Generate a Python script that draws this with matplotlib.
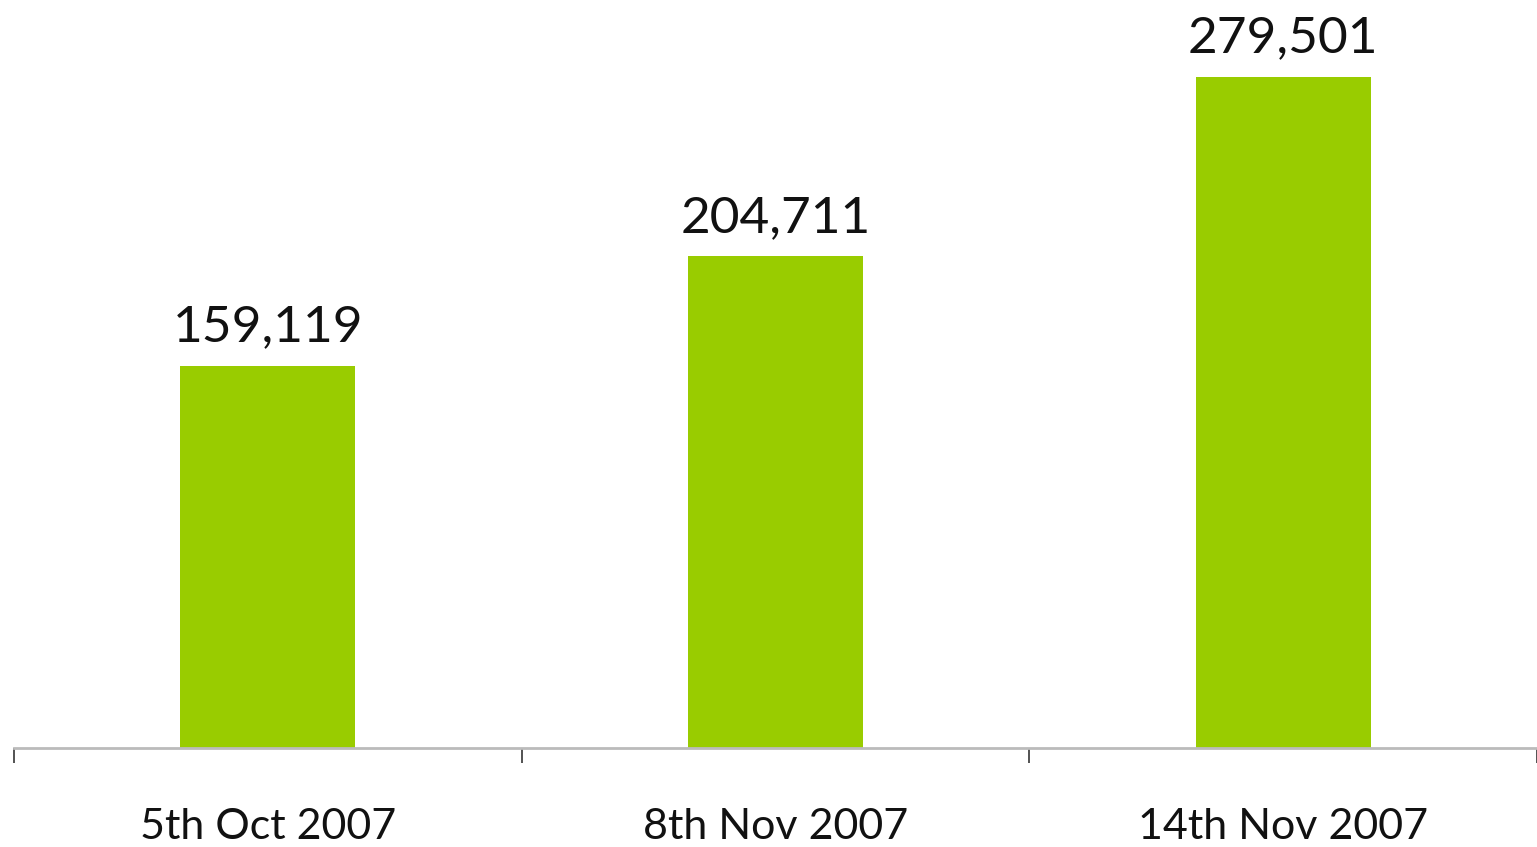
import matplotlib.pyplot as plt
import numpy as np

# data
dates = ["5th Oct 2007", "8th Nov 2007", "14th Nov 2007"]
counts = [159119, 204711, 279501]

plt.rcParams['font.family'] = ['Lato', 'DejaVu Sans']

fig = plt.figure(figsize=(15.37, 8.47), dpi=100)
ax = fig.add_axes([14 / 1537, 99 / 847, 1 - 14 / 1537, 748 / 847])

x = np.arange(len(dates))
bars = ax.bar(x, counts, width=0.345, color='#99CC00', zorder=2)

for b, v in zip(bars, counts):
    ax.annotate(f"{v:,}", (b.get_x() + b.get_width() / 2, v),
                xytext=(0, 11), textcoords='offset points',
                ha='center', va='bottom', fontsize=37, color='#111111')

ax.set_xlim(-0.5, len(dates) - 0.5)
ax.set_ylim(0, 311500)

# category boundaries as ticks, labels in between
ax.set_xticks(np.arange(len(dates) + 1) - 0.5)
ax.set_xticklabels([])
ax.set_xticks(x, minor=True)
ax.set_xticklabels(dates, minor=True, fontsize=31, color='#111111')
ax.tick_params(axis='x', which='major', direction='out', length=11,
               width=1.3, color='#444444')
ax.tick_params(axis='x', which='minor', length=0, pad=43)

ax.set_yticks([])
for s in ['top', 'right', 'left']:
    ax.spines[s].set_visible(False)
ax.spines['bottom'].set_color('#BBBBBB')
ax.spines['bottom'].set_linewidth(2)

fig.savefig('out.png', dpi=100)
